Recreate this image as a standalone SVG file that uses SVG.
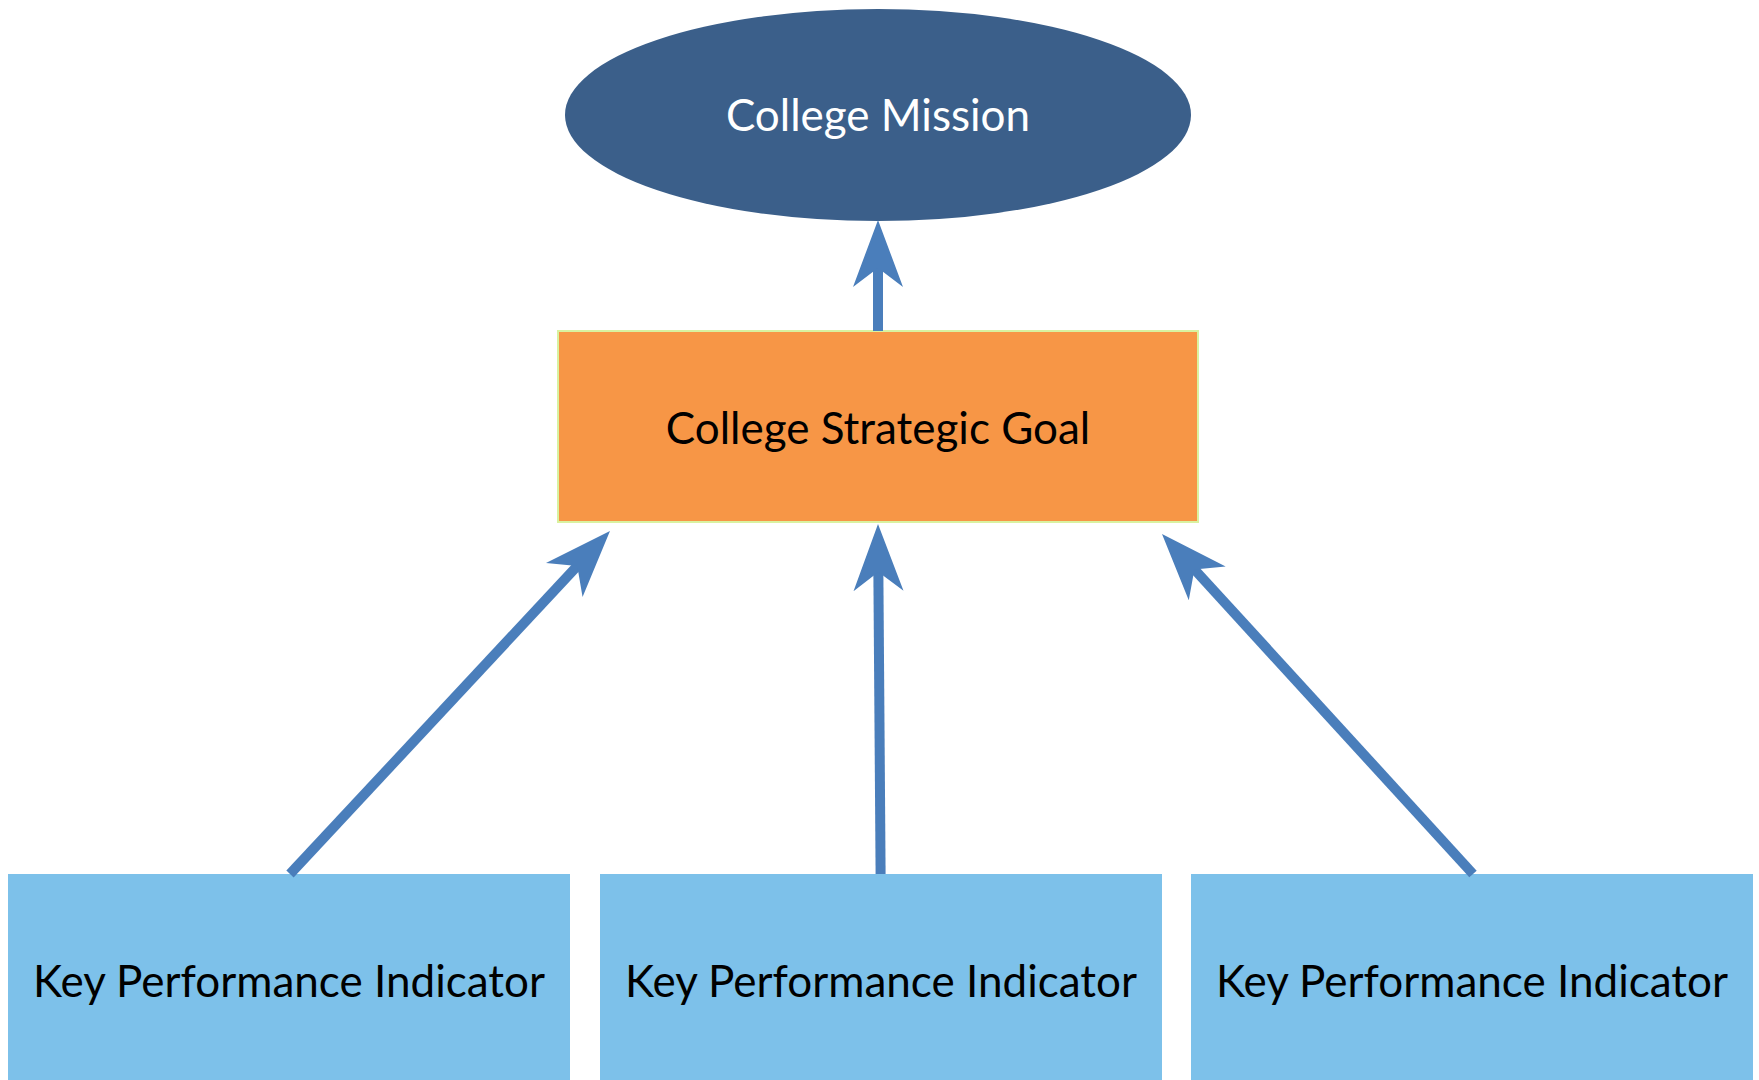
<svg xmlns="http://www.w3.org/2000/svg" width="1759" height="1080" viewBox="0 0 1759 1080">
<style>
.lbl{font-family:Lato,"Open Sans","Liberation Sans",sans-serif;font-size:44px;text-anchor:middle}
.kpi{fill:#7dc1ea}
.conn{stroke:#4a7ebb;stroke-width:10;fill:none;marker-end:url(#ah)}
</style>
<defs>
<marker id="ah" markerUnits="userSpaceOnUse" viewBox="-68 -26 70 52" markerWidth="70" markerHeight="52" refX="-40" refY="0" orient="auto">
<path d="M0,0 L-67,-25 L-48,0 L-67,25 Z" fill="#4a7ebb"/>
</marker>
</defs>
<rect width="1759" height="1080" fill="#fff"/>
<g id="mission">
<ellipse cx="878" cy="115" rx="313" ry="106" fill="#3b5f8a"/>
<text class="lbl" x="878" y="131" fill="#fff">College Mission</text>
</g>
<g id="goal">
<rect x="558" y="331" width="640" height="191" fill="#f79646" stroke="#d9f2a0" stroke-width="2"/>
<text class="lbl" x="878" y="444" fill="#000">College Strategic Goal</text>
</g>
<g id="kpi1">
<rect class="kpi" x="8" y="874" width="562" height="206"/>
<text class="lbl" x="289" y="997" fill="#000">Key Performance Indicator</text>
</g>
<g id="kpi2">
<rect class="kpi" x="600" y="874" width="562" height="206"/>
<text class="lbl" x="881" y="997" fill="#000">Key Performance Indicator</text>
</g>
<g id="kpi3">
<rect class="kpi" x="1191" y="874" width="562" height="206"/>
<text class="lbl" x="1472" y="997" fill="#000">Key Performance Indicator</text>
</g>
<g id="connectors">
<line class="conn" x1="878" y1="331" x2="878" y2="260"/>
<line class="conn" x1="880.6" y1="874" x2="878.3" y2="564"/>
<line class="conn" x1="290" y1="874" x2="582.7" y2="560.2"/>
<line class="conn" x1="1473" y1="874" x2="1189" y2="563.5"/>
</g>
</svg>
